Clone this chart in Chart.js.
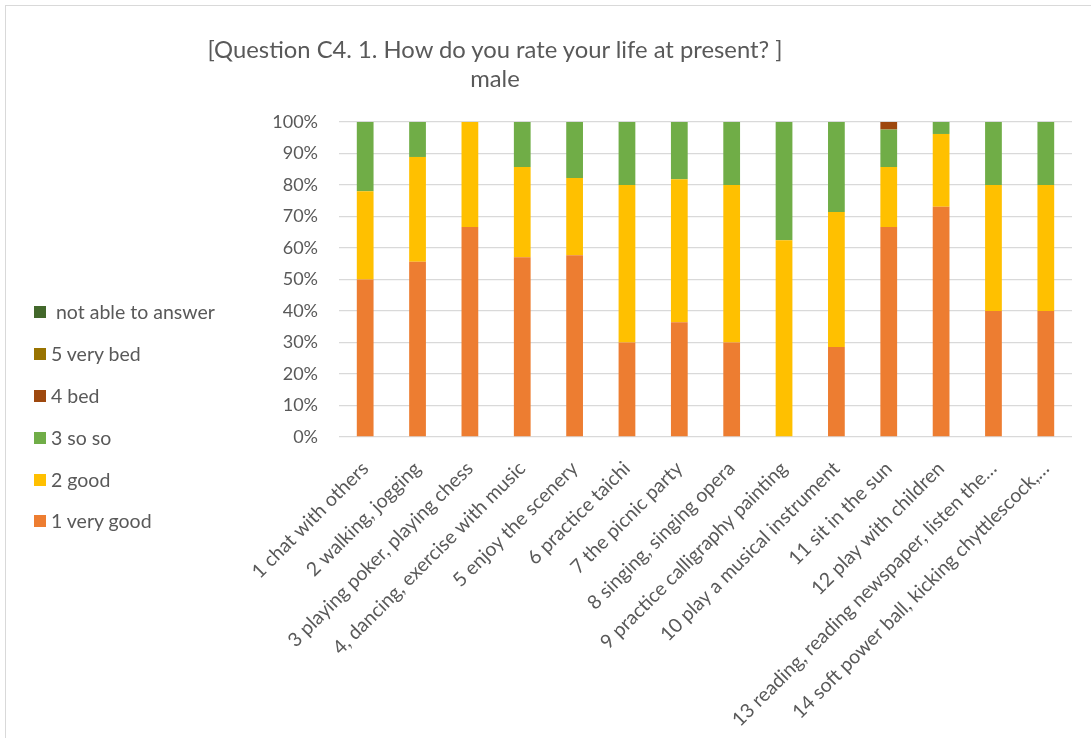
<!DOCTYPE html>
<html>
<head>
<meta charset="utf-8">
<script src="https://cdn.jsdelivr.net/npm/chart.js@4.4.1/dist/chart.umd.min.js"></script>
<style>
  body { margin: 0; background: #fff; font-family: Lato, sans-serif; color: #595959; }
  #wrap { position: relative; width: 1091px; height: 738px; overflow: hidden; }
  #frame { position: absolute; left: 5px; top: 5px; width: 1200px; height: 1000px; border-top: 1.5px solid #d9d9d9; border-left: 1.5px solid #d9d9d9; }
  #chart { position: absolute; left: 0; top: 0; }
  .title { position: absolute; left: 0; width: 990px; text-align: center; font-size: 23.8px; line-height: 28px; }
  #legend { position: absolute; left: 0; top: 0; }
  .item { position: absolute; left: 34px; height: 22px; white-space: pre; font-size: 19.5px; line-height: 22px; }
  .item span.box { position: absolute; left: 0; top: 5px; width: 12px; height: 12px; }
  .item span.txt { position: absolute; left: 17px; top: 0; white-space: pre; }
</style>
</head>
<body>
<div id="wrap">
  <div id="frame"></div>
  <canvas id="chart" width="1091" height="738"></canvas>
  <div class="title" style="top:35px">[Question C4. 1. How do you rate your life at present? ]</div>
  <div class="title" style="top:64px">male</div>
  <div id="legend"></div>
</div>
<script>
// categories (Excel cut the long ones with ...)
const categories = [
  '1 chat with others',
  '2 walking, jogging',
  '3 playing poker, playing chess',
  '4, dancing, exercise with music',
  '5 enjoy the scenery',
  '6 practice taichi',
  '7 the picnic party',
  '8 singing, singing opera',
  '9 practice calligraphy painting',
  '10 play a musical instrument',
  '11 sit in the sun',
  '12 play with children',
  '13 reading, reading newspaper, listen the…',
  '14 soft power ball, kicking chyttlescock,…'
]

// percent of answers
const veryGood = [50, 55.6, 66.7, 57.1, 57.7, 30, 36.4, 30, 0, 28.6, 66.7, 73.1, 40, 40]
const good     = [28, 33.3, 33.3, 28.6, 24.5, 50, 45.4, 50, 62.5, 42.8, 19.0, 23.1, 40, 40]
const soSo     = [22, 11.1, 0, 14.3, 17.8, 20, 18.2, 20, 37.5, 28.6, 11.9, 3.8, 20, 20]
const bed      = [0, 0, 0, 0, 0, 0, 0, 0, 0, 0, 2.4, 0, 0, 0]
const veryBed  = [0, 0, 0, 0, 0, 0, 0, 0, 0, 0, 0, 0, 0, 0]
const notAble  = [0, 0, 0, 0, 0, 0, 0, 0, 0, 0, 0, 0, 0, 0]

const seriesNames = ['1 very good', '2 good', '3 so so', '4 bed', '5 very bed', ' not able to answer']
const seriesData = [veryGood, good, soSo, bed, veryBed, notAble]
const seriesColors = ['#ED7D31', '#FFC000', '#70AD47', '#9E480E', '#997300', '#43682B']

const yTicks = [0, 10, 20, 30, 40, 50, 60, 70, 80, 90, 100]

const datasets = seriesNames.map((name, i) => ({
  label: name,
  data: seriesData[i],
  backgroundColor: seriesColors[i],
  borderWidth: 0,
  categoryPercentage: 1,
  barPercentage: 0.32
}))

const ctx = document.getElementById('chart')
new Chart(ctx, {
  type: 'bar',
  data: { labels: categories, datasets: datasets },
  options: {
    responsive: false,
    animation: false,
    layout: { padding: { left: 0, right: 19, top: 122, bottom: 0 } },
    plugins: { legend: { display: false }, tooltip: { enabled: false } },
    scales: {
      x: {
        stacked: true,
        grid: { display: false },
        border: { display: false },
        ticks: {
          color: '#595959',
          font: { family: 'Lato', size: 19.5 },
          minRotation: 45,
          maxRotation: 45,
          autoSkip: false,
          padding: 12
        },
        afterFit: scale => { scale.height = 738 - 437 }
      },
      y: {
        stacked: true,
        min: 0,
        max: 100,
        afterBuildTicks: scale => { scale.ticks = yTicks.map(v => ({ value: v })) },
        grid: { color: '#d9d9d9', lineWidth: 1.3, drawTicks: false },
        border: { display: false },
        ticks: {
          color: '#595959',
          font: { family: 'Lato', size: 18 },
          padding: 21,
          callback: v => v + '%'
        },
        afterFit: scale => { scale.width = 339 }
      }
    }
  }
})

// legend on the left, reversed like in Excel
const legend = document.getElementById('legend')
const rowTops = [301, 343, 385, 427, 469, 510]
for (let i = seriesNames.length - 1; i >= 0; i--) {
  const item = document.createElement('div')
  item.className = 'item'
  item.style.top = rowTops[seriesNames.length - 1 - i] + 'px'
  const box = document.createElement('span')
  box.className = 'box'
  box.style.background = seriesColors[i]
  const txt = document.createElement('span')
  txt.className = 'txt'
  txt.textContent = seriesNames[i]
  item.appendChild(box)
  item.appendChild(txt)
  legend.appendChild(item)
}
</script>
</body>
</html>
